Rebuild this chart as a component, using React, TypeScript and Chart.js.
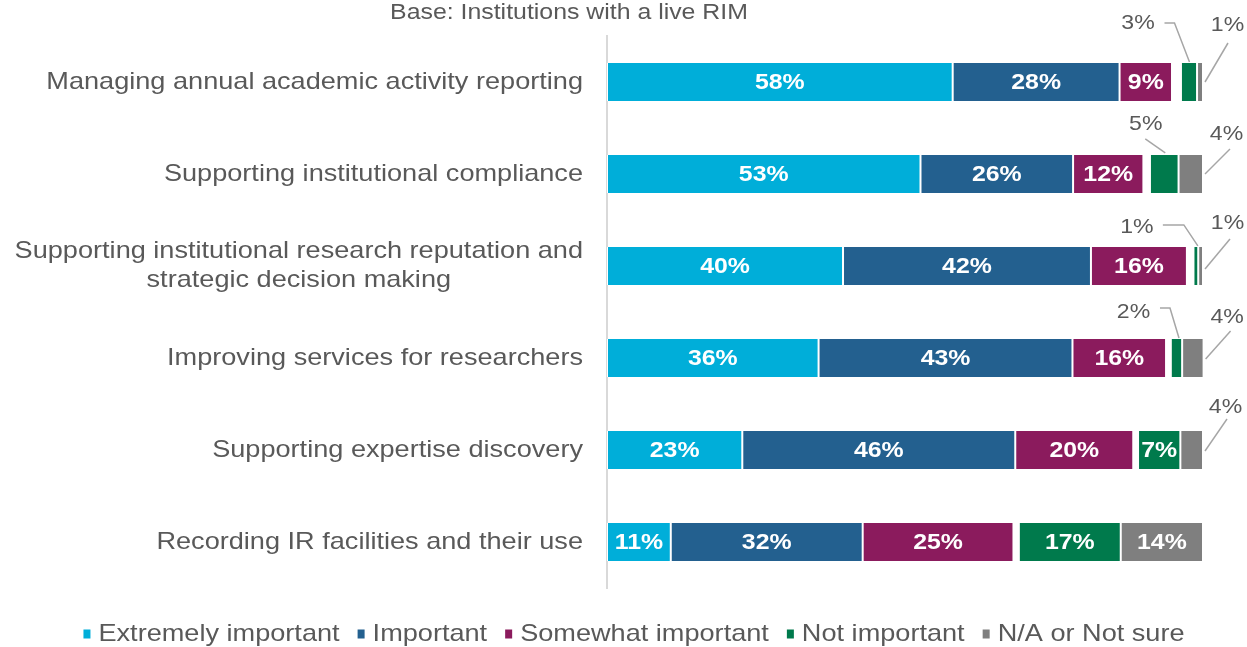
import React, { useEffect, useRef } from 'react';
import { Chart, registerables } from 'chart.js';

Chart.register(...registerables);

// ---------- data ----------
const chartTitle = 'Base: Institutions with a live RIM';

const categories: string[][] = [
  ['Managing annual academic activity reporting'],
  ['Supporting institutional compliance'],
  ['Supporting institutional research reputation and', 'strategic decision making'],
  ['Improving services for researchers'],
  ['Supporting expertise discovery'],
  ['Recording IR facilities and their use'],
];

const seriesNames = ['Extremely important', 'Important', 'Somewhat important', 'Not important', 'N/A or Not sure'];

const extremelyImportant = [58.0, 52.6, 39.6, 35.5, 22.7, 10.7];
const important = [28.0, 25.6, 41.6, 42.6, 45.8, 32.2];
const somewhatImportant = [8.8, 11.8, 16.1, 15.7, 19.8, 25.3];
const unlabelledRemainder = [1.5, 1.1, 1.1, 0.8, 0.8, 0.9];
const notImportant = [2.7, 4.8, 0.8, 1.9, 7.1, 17.1];
const notSure = [1.0, 4.1, 0.8, 3.6, 3.8, 13.8];

// ---------- style ----------
const FONT = '"Liberation Sans", Arial, Helvetica, sans-serif';
const TEXT = '#595959';
const SX = 1.13;
const COLORS = ['#00AED9', '#23608F', '#8B1B5D', '#007A4C', '#7F7F7F'];

type Callout = { label: [number, number]; path: [number, number][] } | null;
const notImportantCallouts: Callout[] = [
  { label: [-51, -39.5], path: [[-24.5, -40], [-14.5, -40], [0.5, -1]] },
  { label: [-18.5, -30.5], path: [[-19, -16], [1, -2]] },
  { label: [-59, -20], path: [[-33, -22], [-12, -22], [2, -1]] },
  { label: [-43, -26.5], path: [[-16.5, -31], [-6.5, -31], [2.5, -1]] },
  null,
  null,
];
const notSureCallouts: Callout[] = [
  { label: [24.5, -57], path: [[25, -39], [2, 0]] },
  { label: [23.5, -39.5], path: [[27, -25], [2, 0]] },
  { label: [24.5, -42.5], path: [[27, -27], [2, 3]] },
  { label: [23.5, -41], path: [[27, -27], [2, 1]] },
  { label: [22.5, -43], path: [[24, -31], [2, 1]] },
  null,
];

function drawText(ctx: CanvasRenderingContext2D, text: string, x: number, y: number, align: CanvasTextAlign, font: string, color: string, sx = SX) {
  ctx.save();
  ctx.font = font;
  ctx.fillStyle = color;
  ctx.textAlign = align;
  ctx.textBaseline = 'middle';
  ctx.translate(x, y);
  ctx.scale(sx, 1);
  ctx.fillText(text, 0, 0);
  ctx.restore();
}
function measure(ctx: CanvasRenderingContext2D, text: string, font: string, sx = SX) {
  ctx.save();
  ctx.font = font;
  const w = ctx.measureText(text).width * sx;
  ctx.restore();
  return w;
}

export default function App() {
  const ref = useRef<HTMLCanvasElement>(null);

  useEffect(() => {
    const canvas = ref.current!;
    const datasets: any[] = [
      { label: seriesNames[0], data: extremelyImportant, backgroundColor: COLORS[0] },
      { label: seriesNames[1], data: important, backgroundColor: COLORS[1] },
      { label: seriesNames[2], data: somewhatImportant, backgroundColor: COLORS[2] },
      { label: '', data: unlabelledRemainder, backgroundColor: 'rgba(0,0,0,0)', borderWidth: 0, isSpacer: true },
      { label: seriesNames[3], data: notImportant, backgroundColor: COLORS[3], callouts: notImportantCallouts, anchor: 'top' },
      { label: seriesNames[4], data: notSure, backgroundColor: COLORS[4], callouts: notSureCallouts, anchor: 'right' },
    ];

    const textPlugin = {
      id: 'textPlugin',
      afterDatasetsDraw(chart: any) {
        const ctx: CanvasRenderingContext2D = chart.ctx;
        chart.data.datasets.forEach((ds: any, di: number) => {
          if (ds.isSpacer) return;
          const meta = chart.getDatasetMeta(di);
          meta.data.forEach((el: any, i: number) => {
            const v = ds.data[i];
            const txt = Math.round(v) + '%';
            const left = Math.min(el.x, el.base);
            const right = Math.max(el.x, el.base);
            const top = el.y - el.height / 2;
            const mid = el.y;
            const c: Callout = ds.callouts ? ds.callouts[i] : null;
            if (!c) {
              drawText(ctx, txt, (left + right) / 2, mid + 1, 'center', `bold 22px ${FONT}`, '#ffffff');
            } else {
              const ax = ds.anchor === 'top' ? (left + right) / 2 : right;
              const ay = ds.anchor === 'top' ? top : mid;
              ctx.save();
              ctx.strokeStyle = '#a6a6a6';
              ctx.lineWidth = 1.5;
              ctx.beginPath();
              c.path.forEach((p, k) => {
                if (k === 0) ctx.moveTo(ax + p[0], ay + p[1]);
                else ctx.lineTo(ax + p[0], ay + p[1]);
              });
              ctx.stroke();
              ctx.restore();
              drawText(ctx, txt, ax + c.label[0], ay + c.label[1], 'center', `21px ${FONT}`, TEXT, 1.1);
            }
          });
        });
      },
      afterDraw(chart: any) {
        const ctx: CanvasRenderingContext2D = chart.ctx;
        const area = chart.chartArea;
        const yScale = chart.scales.y;
        // title
        drawText(ctx, chartTitle, 569, 13, 'center', `22px ${FONT}`, TEXT);
        // category labels
        const labelFont = `24px ${FONT}`;
        const lineH = 29;
        const rightEdge = area.left - 24;
        categories.forEach((lines, i) => {
          const yc = yScale.getPixelForValue(i);
          const blockW = Math.max(...lines.map((l) => measure(ctx, l, labelFont)));
          const cx = rightEdge - blockW / 2;
          lines.forEach((l, j) => {
            const y = yc + (j - (lines.length - 1) / 2) * lineH;
            drawText(ctx, l, cx, y, 'center', labelFont, TEXT);
          });
        });
        // legend
        const legendFont = `24px ${FONT}`;
        const items = chart.data.datasets.filter((d: any) => !d.isSpacer);
        const markerW = 7, markerH = 9, gap = 8, itemGap = 18;
        const widths = items.map((d: any) => measure(ctx, d.label, legendFont));
        const total = widths.reduce((a: number, w: number) => a + markerW + gap + w, 0) + itemGap * (items.length - 1);
        let x = 634 - total / 2;
        const ly = 634;
        items.forEach((d: any, k: number) => {
          ctx.save();
          ctx.fillStyle = d.backgroundColor;
          ctx.fillRect(x, ly - markerH / 2, markerW, markerH);
          ctx.restore();
          x += markerW + gap;
          drawText(ctx, d.label, x, ly, 'left', legendFont, TEXT);
          x += widths[k] + itemGap;
        });
      },
    };

    const chart = new Chart(canvas, {
      type: 'bar',
      data: { labels: categories.map((c) => c.join(' ')), datasets },
      options: {
        indexAxis: 'y',
        responsive: true,
        maintainAspectRatio: false,
        animation: false,
        layout: { padding: { top: 36, bottom: 59, right: 44, left: 0 } },
        datasets: {
          bar: {
            categoryPercentage: 1,
            barPercentage: 0.415,
            borderColor: '#ffffff',
            borderWidth: { left: 1, right: 1, top: 0, bottom: 0 },
            borderSkipped: false,
          },
        } as any,
        scales: {
          x: { stacked: true, min: 0, max: 100, display: false },
          y: {
            stacked: true,
            grid: { display: false },
            ticks: { display: false },
            border: { display: true, color: '#d9d9d9', width: 2 },
            afterFit: (s: any) => {
              s.width = 607;
            },
          },
        },
        plugins: { legend: { display: false }, tooltip: { enabled: false } },
      } as any,
      plugins: [textPlugin],
    });
    return () => chart.destroy();
  }, []);

  return (
    <div style={{ position: 'fixed', left: 0, top: 0, width: 1247, height: 647, background: '#ffffff' }}>
      <canvas ref={ref} />
    </div>
  );
}
